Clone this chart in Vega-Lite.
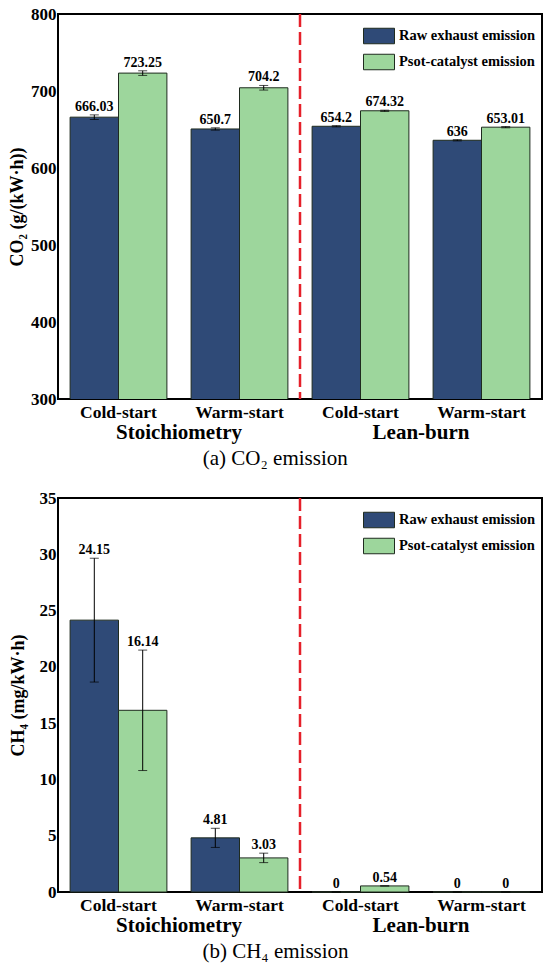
{
  "$schema": "https://vega.github.io/schema/vega-lite/v6.json",
  "padding": {"left": 7, "top": 4, "right": 8, "bottom": 4},
  "background": "white",
  "datasets": {
    "co2": [
      {"case": "Stoichiometry|Cold-start", "series": "Raw exhaust emission", "value": 666.03, "lo": 663, "hi": 669, "label": "666.03"},
      {"case": "Stoichiometry|Cold-start", "series": "Psot-catalyst emission", "value": 723.25, "lo": 720.25, "hi": 726.25, "label": "723.25"},
      {"case": "Stoichiometry|Warm-start", "series": "Raw exhaust emission", "value": 650.7, "lo": 649.2, "hi": 652.2, "label": "650.7"},
      {"case": "Stoichiometry|Warm-start", "series": "Psot-catalyst emission", "value": 704.2, "lo": 701.2, "hi": 707.2, "label": "704.2"},
      {"case": "Lean-burn|Cold-start", "series": "Raw exhaust emission", "value": 654.2, "lo": 653.4, "hi": 655, "label": "654.2"},
      {"case": "Lean-burn|Cold-start", "series": "Psot-catalyst emission", "value": 674.32, "lo": 673.5, "hi": 675.1, "label": "674.32"},
      {"case": "Lean-burn|Warm-start", "series": "Raw exhaust emission", "value": 636, "lo": 635.2, "hi": 636.8, "label": "636"},
      {"case": "Lean-burn|Warm-start", "series": "Psot-catalyst emission", "value": 653.01, "lo": 652.2, "hi": 653.8, "label": "653.01"}
    ],
    "ch4": [
      {"case": "Stoichiometry|Cold-start", "series": "Raw exhaust emission", "value": 24.15, "lo": 18.65, "hi": 29.65, "label": "24.15"},
      {"case": "Stoichiometry|Cold-start", "series": "Psot-catalyst emission", "value": 16.14, "lo": 10.79, "hi": 21.49, "label": "16.14"},
      {"case": "Stoichiometry|Warm-start", "series": "Raw exhaust emission", "value": 4.81, "lo": 3.96, "hi": 5.66, "label": "4.81"},
      {"case": "Stoichiometry|Warm-start", "series": "Psot-catalyst emission", "value": 3.03, "lo": 2.61, "hi": 3.45, "label": "3.03"},
      {"case": "Lean-burn|Cold-start", "series": "Raw exhaust emission", "value": 0, "lo": 0, "hi": 0, "label": "0"},
      {"case": "Lean-burn|Cold-start", "series": "Psot-catalyst emission", "value": 0.54, "lo": 0.54, "hi": 0.54, "label": "0.54"},
      {"case": "Lean-burn|Warm-start", "series": "Raw exhaust emission", "value": 0, "lo": 0, "hi": 0, "label": "0"},
      {"case": "Lean-burn|Warm-start", "series": "Psot-catalyst emission", "value": 0, "lo": 0, "hi": 0, "label": "0"}
    ],
    "divider": [{"regime": "Lean-burn"}]
  },
  "config": {
    "font": "Liberation Serif",
    "view": {"stroke": "black", "strokeWidth": 2},
    "axis": {"labelFont": "Liberation Serif", "titleFont": "Liberation Serif", "labelColor": "black", "titleColor": "black", "grid": false},
    "legend": {"labelFont": "Liberation Serif", "labelFontWeight": "bold", "labelFontSize": 14.5, "labelColor": "black"}
  },
  "resolve": {"legend": {"color": "independent"}},
  "spacing": 18,
  "vconcat": [
    {
      "width": 484,
      "height": 385,
      "title": {"text": "(a) CO₂ emission", "orient": "bottom", "frame": "bounds", "anchor": "middle", "font": "Liberation Serif", "fontSize": 21, "fontWeight": "normal", "offset": 6},
      "layer": [
        {
          "data": {"name": "co2"},
          "encoding": {
            "x": {"field": "case", "type": "nominal", "sort": null, "scale": {"paddingInner": 0.2, "paddingOuter": 0.1},
              "axis": {"title": null, "labelExpr": "split(datum.label, '|')[1]", "labelAngle": 0, "labelFontSize": 17.5, "labelFontWeight": "bold", "labelPadding": 4, "domain": false, "ticks": false, "orient": "bottom"}},
            "xOffset": {"field": "series", "type": "nominal", "sort": ["Raw exhaust emission", "Psot-catalyst emission"]}
          },
          "layer": [
            {
              "mark": {"type": "bar", "stroke": "#1f2b1f", "strokeWidth": 1, "clip": true},
              "encoding": {
                "y": {"field": "value", "type": "quantitative", "scale": {"domain": [300, 800], "nice": false, "zero": false},
                  "axis": {"title": "CO₂ (g/(kW·h))", "titleFontSize": 18, "titleFontWeight": "bold", "titlePadding": 4, "values": [300, 400, 500, 600, 700, 800], "labelFontSize": 17, "labelFontWeight": "bold", "labelPadding": 2, "domain": false, "ticks": false}},
                "color": {"field": "series", "type": "nominal", "sort": ["Raw exhaust emission", "Psot-catalyst emission"],
                  "scale": {"range": ["#2f4a77", "#9dd69c"]},
                  "legend": {"title": null, "orient": "top-right", "offset": 6, "symbolType": "M-1,-0.5H1V0.5H-1Z", "symbolSize": 961, "symbolStrokeColor": "#1f2b1f", "symbolStrokeWidth": 1, "rowPadding": 0, "labelOffset": 4}}
              }
            },
            {
              "mark": {"type": "rule", "color": "black", "strokeWidth": 1},
              "encoding": {"y": {"field": "lo", "type": "quantitative"}, "y2": {"field": "hi"}}
            },
            {
              "mark": {"type": "tick", "color": "black", "size": 9, "thickness": 1},
              "encoding": {"y": {"field": "hi", "type": "quantitative"}}
            },
            {
              "mark": {"type": "tick", "color": "black", "size": 9, "thickness": 1},
              "encoding": {"y": {"field": "lo", "type": "quantitative"}}
            },
            {
              "mark": {"type": "text", "baseline": "bottom", "dy": -1, "fontSize": 14, "fontWeight": "bold", "color": "black", "font": "Liberation Serif"},
              "encoding": {"y": {"field": "hi", "type": "quantitative"}, "text": {"field": "label", "type": "nominal"}}
            }
          ]
        },
        {
          "data": {"name": "divider"},
          "mark": {"type": "rule", "color": "#e5202a", "strokeWidth": 2.5, "strokeDash": [13, 5]},
          "encoding": {
            "x": {"field": "regime", "type": "nominal", "bandPosition": 0,
              "scale": {"domain": ["Stoichiometry", "Lean-burn"], "paddingInner": 0, "paddingOuter": 0},
              "axis": {"title": null, "orient": "bottom", "labelAngle": 0, "labelFontSize": 21, "labelFontWeight": "bold", "labelPadding": 22, "domain": false, "ticks": false}}
          }
        }
      ],
      "resolve": {"scale": {"x": "independent"}}
    },
    {
      "width": 484,
      "height": 394,
      "title": {"text": "(b) CH₄ emission", "orient": "bottom", "frame": "bounds", "anchor": "middle", "font": "Liberation Serif", "fontSize": 21, "fontWeight": "normal", "offset": 6},
      "layer": [
        {
          "data": {"name": "ch4"},
          "encoding": {
            "x": {"field": "case", "type": "nominal", "sort": null, "scale": {"paddingInner": 0.2, "paddingOuter": 0.1},
              "axis": {"title": null, "labelExpr": "split(datum.label, '|')[1]", "labelAngle": 0, "labelFontSize": 17.5, "labelFontWeight": "bold", "labelPadding": 4, "domain": false, "ticks": false, "orient": "bottom"}},
            "xOffset": {"field": "series", "type": "nominal", "sort": ["Raw exhaust emission", "Psot-catalyst emission"]}
          },
          "layer": [
            {
              "mark": {"type": "bar", "stroke": "#1f2b1f", "strokeWidth": 1},
              "encoding": {
                "y": {"field": "value", "type": "quantitative", "scale": {"domain": [0, 35], "nice": false},
                  "axis": {"title": "CH₄ (mg/kW·h)", "titleFontSize": 18, "titleFontWeight": "bold", "titlePadding": 12, "values": [0, 5, 10, 15, 20, 25, 30, 35], "labelFontSize": 17, "labelFontWeight": "bold", "labelPadding": 2, "domain": false, "ticks": false}},
                "color": {"field": "series", "type": "nominal", "sort": ["Raw exhaust emission", "Psot-catalyst emission"],
                  "scale": {"range": ["#2f4a77", "#9dd69c"]},
                  "legend": {"title": null, "orient": "top-right", "offset": 6, "symbolType": "M-1,-0.5H1V0.5H-1Z", "symbolSize": 961, "symbolStrokeColor": "#1f2b1f", "symbolStrokeWidth": 1, "rowPadding": 0, "labelOffset": 4}}
              }
            },
            {
              "mark": {"type": "rule", "color": "black", "strokeWidth": 1},
              "encoding": {"y": {"field": "lo", "type": "quantitative"}, "y2": {"field": "hi"}}
            },
            {
              "mark": {"type": "tick", "color": "black", "size": 9, "thickness": 1},
              "encoding": {"y": {"field": "hi", "type": "quantitative"}}
            },
            {
              "mark": {"type": "tick", "color": "black", "size": 9, "thickness": 1},
              "encoding": {"y": {"field": "lo", "type": "quantitative"}}
            },
            {
              "mark": {"type": "text", "baseline": "bottom", "dy": -1, "fontSize": 14, "fontWeight": "bold", "color": "black", "font": "Liberation Serif"},
              "encoding": {"y": {"field": "hi", "type": "quantitative"}, "text": {"field": "label", "type": "nominal"}}
            }
          ]
        },
        {
          "data": {"name": "divider"},
          "mark": {"type": "rule", "color": "#e5202a", "strokeWidth": 2.5, "strokeDash": [13, 5]},
          "encoding": {
            "x": {"field": "regime", "type": "nominal", "bandPosition": 0,
              "scale": {"domain": ["Stoichiometry", "Lean-burn"], "paddingInner": 0, "paddingOuter": 0},
              "axis": {"title": null, "orient": "bottom", "labelAngle": 0, "labelFontSize": 21, "labelFontWeight": "bold", "labelPadding": 22, "domain": false, "ticks": false}}
          }
        }
      ],
      "resolve": {"scale": {"x": "independent"}}
    }
  ]
}
